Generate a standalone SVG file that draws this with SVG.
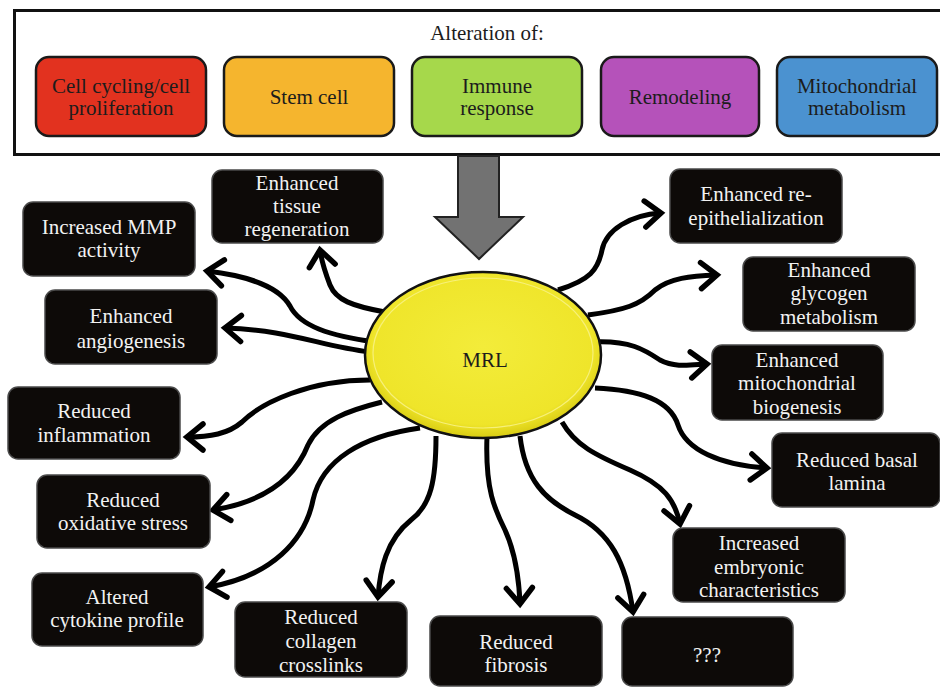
<svg xmlns="http://www.w3.org/2000/svg" width="940" height="687" viewBox="0 0 940 687">
<defs>
<style>
.cat{stroke:#1a1a1a;stroke-width:2.5}
.ct{font-family:"Liberation Serif","Times New Roman",serif;font-size:21px;fill:#1c1c1c;text-anchor:middle}
.bx{fill:#0d0a08;stroke:#4a4a4a;stroke-width:1.5}
.bt{font-family:"Liberation Serif","Times New Roman",serif;font-size:21px;fill:#f2f2f2;text-anchor:middle}
.cn{fill:none;stroke:#000;stroke-width:5;stroke-linecap:butt;marker-end:url(#ah)}
</style>
<marker id="ah" markerUnits="userSpaceOnUse" viewBox="-24 -20 32 40" refX="0" refY="0" markerWidth="32" markerHeight="40" orient="auto">
<path d="M-16,-13 L0,0 L-16,13" fill="none" stroke="#000" stroke-width="5.5" stroke-linejoin="miter" stroke-linecap="round"/>
</marker>
<radialGradient id="yel" cx="0.5" cy="0.45" r="0.55">
<stop offset="0" stop-color="#f3ec3a"/>
<stop offset="0.85" stop-color="#efe52a"/>
<stop offset="1" stop-color="#d8cb12"/>
</radialGradient>
</defs>

<g id="alteration-panel">
<rect x="14.5" y="10.5" width="940" height="144" fill="#fff" stroke="#111" stroke-width="3"/>
<text class="ct" x="487" y="40">Alteration of:</text>
</g>
<g id="cat-cell-cycling">
<rect class="cat" x="36" y="57" width="170" height="79" rx="13" fill="#e2321f"/>
<text class="ct" x="121" y="93">Cell cycling/cell</text>
<text class="ct" x="121" y="115">proliferation</text>
</g>
<g id="cat-stem-cell">
<rect class="cat" x="224" y="57" width="170" height="79" rx="13" fill="#f5b52e"/>
<text class="ct" x="309" y="104">Stem cell</text>
</g>
<g id="cat-immune">
<rect class="cat" x="412" y="57" width="170" height="79" rx="13" fill="#a6d84b"/>
<text class="ct" x="497" y="93">Immune</text>
<text class="ct" x="497" y="115">response</text>
</g>
<g id="cat-remodeling">
<rect class="cat" x="601" y="57" width="158" height="79" rx="13" fill="#b552ba"/>
<text class="ct" x="680" y="104">Remodeling</text>
</g>
<g id="cat-mito">
<rect class="cat" x="777" y="57" width="160" height="79" rx="13" fill="#4b92d0"/>
<text class="ct" x="857" y="93">Mitochondrial</text>
<text class="ct" x="857" y="115">metabolism</text>
</g>

<g id="big-arrow">
<path d="M458,156 L499,156 L499,217 L523,217 L479,259 L435,217 L458,217 Z" fill="#727272" stroke="#222" stroke-width="2"/>
</g>

<g id="connectors">
<path class="cn" d="M385,312 C352,306 336,300 330,285 C325,272 322,264 320,250"/>
<path class="cn" d="M375,342 C330,336 300,326 290,306 C280,288 250,276 207,271"/>
<path class="cn" d="M370,352 C320,346 290,330 225,328"/>
<path class="cn" d="M370,380 C310,380 262,402 242,422 C228,434 210,437 187,437"/>
<path class="cn" d="M382,402 C350,410 320,420 308,445 C298,470 275,500 213,510"/>
<path class="cn" d="M420,428 C362,436 322,460 313,500 C305,540 272,576 209,587"/>
<path class="cn" d="M436,436 C436,480 431,505 411,520 C386,540 380,570 378,597"/>
<path class="cn" d="M487,436 C485,490 495,510 505,530 C515,552 519,578 520,604"/>
<path class="cn" d="M520,436 C525,480 545,500 575,515 C610,532 626,562 633,612"/>
<path class="cn" d="M562,422 C575,445 595,455 630,470 C664,485 675,500 680,524"/>
<path class="cn" d="M595,388 C640,390 670,400 678,425 C686,450 720,465 767,468"/>
<path class="cn" d="M592,342 C630,340 645,350 660,360 C675,368 690,365 707,364"/>
<path class="cn" d="M588,315 C625,310 640,305 655,290 C670,278 690,276 717,275"/>
<path class="cn" d="M558,290 C590,280 598,270 602,250 C606,230 630,215 661,213"/>
</g>

<g id="mrl">
<ellipse cx="483" cy="355" rx="118" ry="83" fill="url(#yel)" stroke="#111" stroke-width="2.5"/>
<ellipse cx="483" cy="353" rx="110" ry="75" fill="none" stroke="#f7f07a" stroke-width="1.2"/>
<text class="ct" x="485" y="367" fill="#1a1a1a">MRL</text>
</g>

<g id="n-tissue-regeneration">
<rect class="bx" x="212" y="170" width="171" height="73" rx="10"/>
<text class="bt" x="297" y="190">Enhanced</text>
<text class="bt" x="297" y="213">tissue</text>
<text class="bt" x="297" y="236">regeneration</text>
</g>
<g id="n-mmp">
<rect class="bx" x="23" y="202" width="172" height="74" rx="10"/>
<text class="bt" x="109" y="234">Increased MMP</text>
<text class="bt" x="109" y="257">activity</text>
</g>
<g id="n-angiogenesis">
<rect class="bx" x="45" y="290" width="172" height="74" rx="10"/>
<text class="bt" x="131" y="323">Enhanced</text>
<text class="bt" x="131" y="348">angiogenesis</text>
</g>
<g id="n-inflammation">
<rect class="bx" x="8" y="387" width="172" height="72" rx="10"/>
<text class="bt" x="94" y="418">Reduced</text>
<text class="bt" x="94" y="442">inflammation</text>
</g>
<g id="n-oxidative">
<rect class="bx" x="37" y="475" width="173" height="73" rx="10"/>
<text class="bt" x="123" y="507">Reduced</text>
<text class="bt" x="123" y="530">oxidative stress</text>
</g>
<g id="n-cytokine">
<rect class="bx" x="32" y="573" width="171" height="73" rx="10"/>
<text class="bt" x="117" y="604">Altered</text>
<text class="bt" x="117" y="627">cytokine profile</text>
</g>
<g id="n-collagen">
<rect class="bx" x="235" y="602" width="172" height="75" rx="10"/>
<text class="bt" x="321" y="624">Reduced</text>
<text class="bt" x="321" y="648">collagen</text>
<text class="bt" x="321" y="672">crosslinks</text>
</g>
<g id="n-fibrosis">
<rect class="bx" x="430" y="616" width="172" height="70" rx="10"/>
<text class="bt" x="516" y="649">Reduced</text>
<text class="bt" x="516" y="672">fibrosis</text>
</g>
<g id="n-unknown">
<rect class="bx" x="622" y="617" width="171" height="69" rx="10"/>
<text class="bt" x="707" y="662">???</text>
</g>
<g id="n-embryonic">
<rect class="bx" x="673" y="528" width="172" height="74" rx="10"/>
<text class="bt" x="759" y="550">Increased</text>
<text class="bt" x="759" y="574">embryonic</text>
<text class="bt" x="759" y="597">characteristics</text>
</g>
<g id="n-basal-lamina">
<rect class="bx" x="772" y="433" width="168" height="74" rx="10"/>
<text class="bt" x="857" y="467">Reduced basal</text>
<text class="bt" x="857" y="490">lamina</text>
</g>
<g id="n-mito-biogenesis">
<rect class="bx" x="712" y="345" width="171" height="75" rx="10"/>
<text class="bt" x="797" y="367">Enhanced</text>
<text class="bt" x="797" y="390">mitochondrial</text>
<text class="bt" x="797" y="414">biogenesis</text>
</g>
<g id="n-glycogen">
<rect class="bx" x="743" y="257" width="172" height="74" rx="10"/>
<text class="bt" x="829" y="277">Enhanced</text>
<text class="bt" x="829" y="300">glycogen</text>
<text class="bt" x="829" y="324">metabolism</text>
</g>
<g id="n-reepithelialization">
<rect class="bx" x="670" y="169" width="172" height="74" rx="10"/>
<text class="bt" x="756" y="201">Enhanced re-</text>
<text class="bt" x="756" y="225">epithelialization</text>
</g>
</svg>
